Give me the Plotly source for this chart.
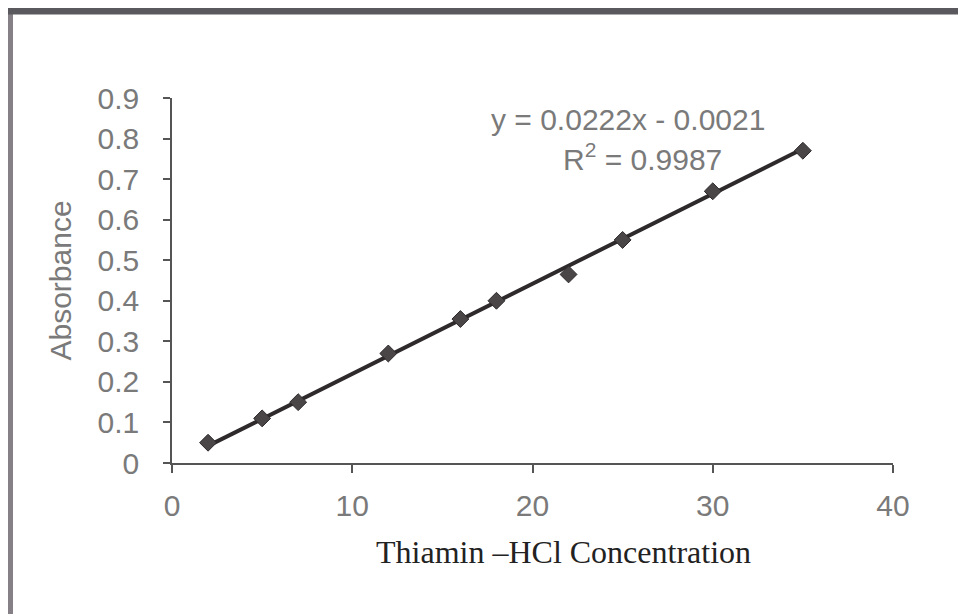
import plotly.graph_objects as go

concentration = [2, 5, 7, 12, 16, 18, 22, 25, 30, 35]
absorbance = [0.05, 0.11, 0.15, 0.27, 0.355, 0.40, 0.465, 0.55, 0.67, 0.77]
slope = 0.0222
intercept = -0.0021
r_squared = 0.9987
x_ticks = [0, 10, 20, 30, 40]
y_ticks = [0, 0.1, 0.2, 0.3, 0.4, 0.5, 0.6, 0.7, 0.8, 0.9]
x_title = "Thiamin \u2013HCl Concentration"
y_title = "Absorbance"

fit_x = [min(concentration), max(concentration)]
fit_y = [slope * v + intercept for v in fit_x]

# screen-pixel helpers (plot area spans 172..893 x, 98..463 y in the page)
PX0, PX1, PY0, PY1 = 172, 893, 98, 463
def px(x):
    return (x - PX0) / (PX1 - PX0)
def py(y):
    return (PY1 - y) / (PY1 - PY0)

fig = go.Figure()
fig.add_trace(go.Scatter(
    x=fit_x, y=fit_y, mode="lines",
    line=dict(color="#2e2a2c", width=4), showlegend=False, hoverinfo="skip"))
fig.add_trace(go.Scatter(
    x=concentration, y=absorbance, mode="markers",
    marker=dict(symbol="diamond", size=13, color="#4a4648",
                line=dict(color="#2e2a2c", width=1)),
    showlegend=False))

tick_font = dict(family="Liberation Sans, Arial", size=30, color="#7a7a7a")

fig.update_layout(
    width=958, height=606,
    margin=dict(l=164, r=73, t=90, b=151),
    paper_bgcolor="white", plot_bgcolor="white",
    xaxis=dict(range=[0, 40], tickvals=x_ticks, ticktext=[str(v) for v in x_ticks],
               showgrid=False, zeroline=False, showline=True, linecolor="#555555", linewidth=1.5,
               ticks="outside", ticklen=8, tickcolor="#555555", tickwidth=1.5,
               tickfont=tick_font, ticklabelstandoff=7),
    yaxis=dict(range=[0, 0.9], tickvals=y_ticks, ticktext=["0"] + [f"{v:.1f}" for v in y_ticks[1:]],
               showgrid=False, zeroline=False, showline=True, linecolor="#555555", linewidth=1.5,
               ticks="outside", ticklen=7, tickcolor="#555555", tickwidth=1.5,
               tickfont=tick_font, ticklabelstandoff=18,
               title=dict(text=y_title,
                          font=dict(family="Liberation Sans, Arial", size=30, color="#7a7a7a"),
                          standoff=17)),
    annotations=[
        dict(xref="paper", yref="paper", x=px(563), y=py(552),
             text=x_title, showarrow=False,
             font=dict(family="Liberation Serif, Times New Roman", size=32, color="#222222"),
             xanchor="center", yanchor="middle"),
        dict(xref="paper", yref="paper", x=px(628), y=py(119),
             text=f"y = {slope}x - {abs(intercept)}", showarrow=False,
             font=tick_font, xanchor="center", yanchor="middle"),
        dict(xref="paper", yref="paper", x=px(642), y=py(157),
             text=f"R<sup>2</sup> = {r_squared}", showarrow=False,
             font=tick_font, xanchor="center", yanchor="middle"),
    ],
    shapes=[
        dict(type="line", xref="paper", yref="paper", x0=px(9), x1=px(9),
             y0=py(9), y1=py(620), line=dict(color="#858085", width=8)),
        dict(type="line", xref="paper", yref="paper", x0=px(5), x1=px(970),
             y0=py(11), y1=py(11), line=dict(color="#5a5a5e", width=7)),
    ],
)

fig.write_html("out.html")
